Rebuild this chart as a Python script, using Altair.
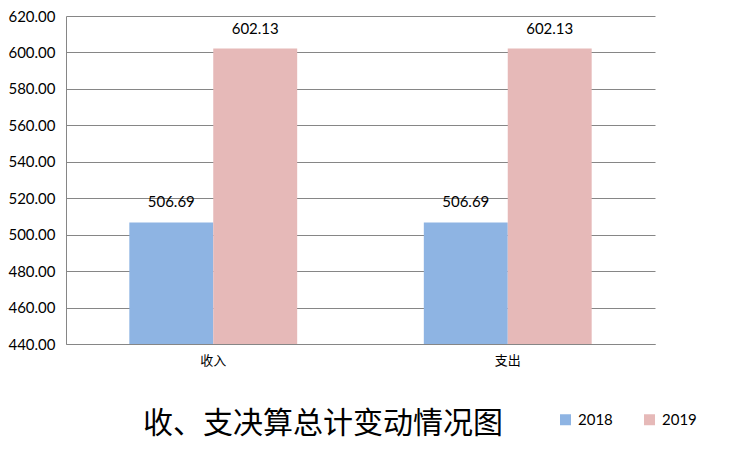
import altair as alt
import pandas as pd

categories = ["收入", "支出"]
years = ["2018", "2019"]
values_2018 = [506.69, 506.69]
values_2019 = [602.13, 602.13]
y_ticks = [440, 460, 480, 500, 520, 540, 560, 580, 600, 620]

rows = []
for i, c in enumerate(categories):
    rows.append({"cat": c, "year": "2018", "value": values_2018[i]})
    rows.append({"cat": c, "year": "2019", "value": values_2019[i]})
df = pd.DataFrame(rows)

num_font = "Lato"
cjk_font = "Noto Sans CJK SC"

x = alt.X("cat:N", sort=categories, title=None,
          scale=alt.Scale(paddingInner=0.43, paddingOuter=0.215),
          axis=alt.Axis(labelAngle=0, labelFont=cjk_font, labelFontSize=13,
                        labelColor="#000000", labelPadding=10, ticks=False,
                        domainColor="#868686", domainWidth=1))
y = alt.Y("value:Q", title=None,
          scale=alt.Scale(domain=[440, 620], zero=False, nice=False),
          axis=alt.Axis(values=y_ticks, format=".2f", labelFont=num_font,
                        labelFontSize=15, labelColor="#000000", labelPadding=11,
                        labelOverlap=False, labelBound=False, labelFlush=False,
                        ticks=False, grid=True, gridColor="#868686", gridWidth=1,
                        domainColor="#868686", domainWidth=1))
color = alt.Color("year:N", sort=years,
                  scale=alt.Scale(domain=years, range=["#8EB4E3", "#E6B9B8"]),
                  legend=alt.Legend(title=None, orient="none", direction="horizontal",
                                    legendX=492, legendY=396, symbolType="square",
                                    symbolSize=121, symbolStrokeWidth=0,
                                    labelFont=num_font, labelFontSize=15,
                                    labelColor="#000000", labelOffset=5,
                                    columnPadding=29))

base = alt.Chart(df).encode(x=x, y=y, xOffset=alt.XOffset("year:N", sort=years))

bars = base.mark_bar(clip=True).encode(y2=alt.datum(440), color=color)
labels = base.mark_text(dy=-20, font=num_font, fontSize=15, color="#000000").encode(
    text=alt.Text("value:Q", format=".2f"))

chart = alt.layer(bars, labels).properties(
    width=589, height=328,
    autosize=alt.AutoSizeParams(type="none"),
    padding={"left": 58, "top": 8, "right": 90, "bottom": 120},
    title=alt.Title("收、支决算总计变动情况图", orient="bottom", anchor="start",
                    dx=135, dy=-24, offset=5, font=cjk_font, fontSize=30,
                    fontWeight="normal", color="#000000"),
).configure_view(stroke=None)

chart.save("out.html", embed_options={"renderer": "svg", "actions": False})
